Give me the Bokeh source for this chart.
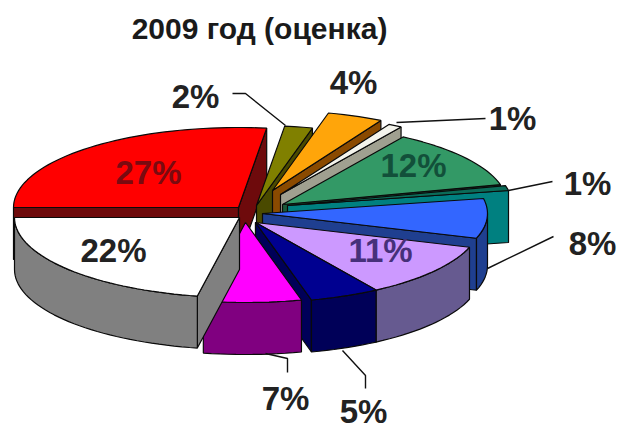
from math import cos, sin, radians
from bokeh.core.properties import value
from bokeh.plotting import figure
from bokeh.embed import file_html
from bokeh.resources import INLINE

title = "2009 год (оценка)"
values = [27, 2, 4, 1, 12, 1, 8, 11, 5, 7, 22]
top_colors = ["#FF0000", "#808000", "#FFA50A", "#F4F4EC", "#339966", "#0B6B58",
              "#3366FF", "#CC99FF", "#000090", "#FF00FF", "#FFFFFF"]
side_colors = ["#6E0A0C", "#4A4A00", "#8A4A00", "#A0A090", "#1A5A3A", "#008080",
               "#1F3F90", "#665A90", "#000058", "#800080", "#808080"]
label_colors = ["#7A0A10", "#222222", "#222222", "#222222", "#12503A", "#222222",
                "#222222", "#46307A", "#222222", "#222222", "#222222"]

# layout of the picture, in reference pixels
apex_x = [238, 256, 272, 280, 282, 287, 262, 255, 255, 245, 239]
apex_y = [207, 205, 190, 194, 204, 205, 213, 222, 222, 222, 217]
label_x = [148, 195, 353, 512, 413, 587, 592, 380, 363, 285, 113]
label_y = [172, 96, 82, 118, 165, 183, 243, 250, 411, 398, 250]
leaders = {
    1: [(232, 93), (245, 93), (285, 125)],
    3: [(396, 122), (485, 118)],
    5: [(508, 190), (552, 181)],
    6: [(487, 268), (553, 236)],
    8: [(342, 350), (365, 375), (365, 388)],
    9: [(265, 353), (287, 358), (287, 372)],
}
RX, RY, DEPTH, START = 225, 80, 52, 180

p = figure(width=621, height=429, x_range=(0, 621), y_range=(429, 0),
           output_backend="svg", toolbar_location=None, min_border=0,
           outline_line_color=None, background_fill_color="white")
p.axis.visible = False
p.grid.visible = False


def pt(cx, cy, a):
    return (cx + RX * cos(radians(a)), cy - RY * sin(radians(a)))


total = sum(values)
cum = 0
for i, v in enumerate(values):
    a0 = START - 360 * cum / total
    a1 = START - 360 * (cum + v) / total
    cum += v
    cx, cy = apex_x[i], apex_y[i]
    steps = max(2, int(abs(a1 - a0) / 2))
    arc = [pt(cx, cy, a0 + (a1 - a0) * k / steps) for k in range(steps + 1)]
    # cut faces that look towards the viewer
    faces = []
    if cos(radians(a0)) < 0:
        e = pt(cx, cy, a0)
        faces.append([(cx, cy), e, (e[0], e[1] + DEPTH), (cx, cy + DEPTH)])
    if cos(radians(a1)) > 0:
        e = pt(cx, cy, a1)
        faces.append([(cx, cy), e, (e[0], e[1] + DEPTH), (cx, cy + DEPTH)])
    # the outer rim, lower half only
    r0, r1 = min(a0, 0), max(a1, -180)
    if r0 > r1:
        n = max(2, int((r0 - r1) / 2))
        rim = [pt(cx, cy, r0 + (r1 - r0) * k / n) for k in range(n + 1)]
        faces.append(rim + [(x, y + DEPTH) for x, y in rim[::-1]])
    for face in faces:
        p.patch([q[0] for q in face], [q[1] for q in face], fill_color=side_colors[i],
                line_color="#0A0A0A", line_width=1.2)
    topf = [(cx, cy)] + arc
    p.patch([q[0] for q in topf], [q[1] for q in topf], fill_color=top_colors[i],
            line_color="#0A0A0A", line_width=1.2)

for pts in leaders.values():
    p.line([q[0] for q in pts], [q[1] for q in pts], line_color="#111111", line_width=1.4)

p.text(x=label_x, y=label_y, text=[f"{v}%" for v in values], text_align="center",
       text_baseline="middle", text_font_size="33px", text_font_style="bold",
       text_color=label_colors, text_font=value("Liberation Sans"))
p.text(x=[259], y=[28], text=[title], text_align="center", text_baseline="middle",
       text_font_size="30px", text_font_style="bold", text_color="#1A1A1A",
       text_font=value("Liberation Sans"))

open("out.html", "w").write(file_html(p, INLINE))
